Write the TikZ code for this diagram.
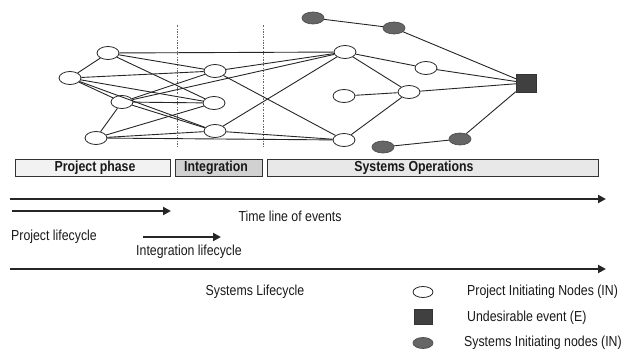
\documentclass[tikz,border=0pt]{standalone}
\usepackage{fontspec}
\setmainfont{Liberation Sans}[FakeStretch=0.85]
\usetikzlibrary{shapes.geometric,arrows.meta}
\tikzset{
  pin/.style={draw=black!85, line width=0.8pt, ellipse, minimum width=22pt, minimum height=13pt, inner sep=0pt, fill=white},
  sin/.style={draw=black!70, line width=0.7pt, ellipse, minimum width=22pt, minimum height=12pt, inner sep=0pt, fill=black!60},
  evt/.style={draw=black!80, rectangle, minimum width=20pt, minimum height=18pt, inner sep=0pt, fill=black!75},
  edge/.style={draw=black!85, line width=0.9pt},
  phase/.style={draw=black!80, line width=0.7pt},
  lbl/.style={font=\fontsize{14.5}{16}\selectfont, inner sep=0pt, text=black!90},
  blbl/.style={font=\fontsize{14.5}{16}\selectfont\bfseries, inner sep=0pt, text=black!90},
  tl/.style={draw=black!85, line width=2.8pt, -{Triangle[length=8pt,width=8pt]}},
  sep/.style={draw=black!60, line width=0.6pt, dash pattern=on 2pt off 1.5pt on 0.6pt off 1.5pt}
}
\begin{document}
\begin{tikzpicture}[x=1pt,y=-1pt]
\useasboundingbox (0,0) rectangle (622,356);
% separators
\coordinate (d1a) at (177,25); \coordinate (d1b) at (177,148);
\coordinate (d2a) at (263,25); \coordinate (d2b) at (263,148);
\draw[sep] (d1a) -- (d1b);
\draw[sep] (d2a) -- (d2b);
% nodes
\node[pin] (n1) at (108,53) {};
\node[pin] (n2) at (70,78) {};
\node[pin] (n3) at (122,102) {};
\node[pin] (n4) at (96,138) {};
\node[pin] (m1) at (215,71) {};
\node[pin] (m2) at (214,103) {};
\node[pin] (m3) at (215,131) {};
\node[pin] (p1) at (345,52) {};
\node[pin] (p2) at (426,68) {};
\node[pin] (p3) at (344,96) {};
\node[pin] (p4) at (409,92) {};
\node[pin] (p5) at (344,140) {};
\node[sin] (s1) at (313,18) {};
\node[sin] (s2) at (394,28) {};
\node[sin] (s3) at (383,147) {};
\node[sin] (s4) at (460,139) {};
\node[evt] (E) at (526,83) {};
% edges
\foreach \a/\b in {n1/n2,n2/n3,n3/n4,
  n1/p1,n1/m1,n1/m2,
  n2/m1,n2/m2,n2/m3,
  n3/m1,n3/m2,n3/m3,n3/p1,
  n4/m2,n4/m3,n4/p5,
  m1/p1,m1/p5,m3/p1,m3/p5,
  p1/p2,p1/p4,p3/p4,p5/p4,p2/E,p4/E,
  s1/s2,s2/E,s3/s4,s4/E}
  \draw[edge] (\a) -- (\b);
% phase boxes
\node[phase, fill=black!5, minimum width=155pt, minimum height=17pt, inner sep=0pt] (bp) at (92.5,167.5) {};
\node[phase, fill=black!18, minimum width=87pt, minimum height=17pt, inner sep=0pt] (bi) at (218.5,167.5) {};
\node[phase, fill=black!9, minimum width=331pt, minimum height=17pt, inner sep=0pt] (bs) at (432.5,167.5) {};
\node[blbl] (tp) at (95,167.5) {Project phase};
\node[blbl] (ti) at (216,167.5) {Integration};
\node[blbl] (ts) at (414,167.5) {Systems Operations};
% time arrows
\coordinate (a1s) at (10,199); \coordinate (a1e) at (606,199);
\coordinate (a2s) at (12,211); \coordinate (a2e) at (171,211);
\coordinate (a3s) at (143,237); \coordinate (a3e) at (221,237);
\coordinate (a4s) at (10,269); \coordinate (a4e) at (606,269);
\draw[tl] (a1s) -- (a1e);
\draw[tl] (a2s) -- (a2e);
\draw[tl] (a3s) -- (a3e);
\draw[tl] (a4s) -- (a4e);
\node[lbl] (l1) at (290,216) {Time line of events};
\node[lbl] (l2) at (54,237) {Project lifecycle};
\node[lbl] (l3) at (189,252) {Integration lifecycle};
\node[lbl] (l4) at (255,292) {Systems Lifecycle};
% legend
\node[pin, minimum width=20pt, minimum height=11pt] (k1) at (423,292) {};
\node[evt, minimum width=18pt, minimum height=15pt] (k2) at (423,317) {};
\node[sin, minimum width=20pt, minimum height=11pt] (k3) at (423,343) {};
\node[lbl, anchor=west] (k1t) at (467,292) {Project Initiating Nodes (IN)};
\node[lbl, anchor=west] (k2t) at (467,318) {Undesirable event (E)};
\node[lbl, anchor=west] (k3t) at (464,343) {Systems Initiating nodes (IN)};
\end{tikzpicture}
\end{document}
